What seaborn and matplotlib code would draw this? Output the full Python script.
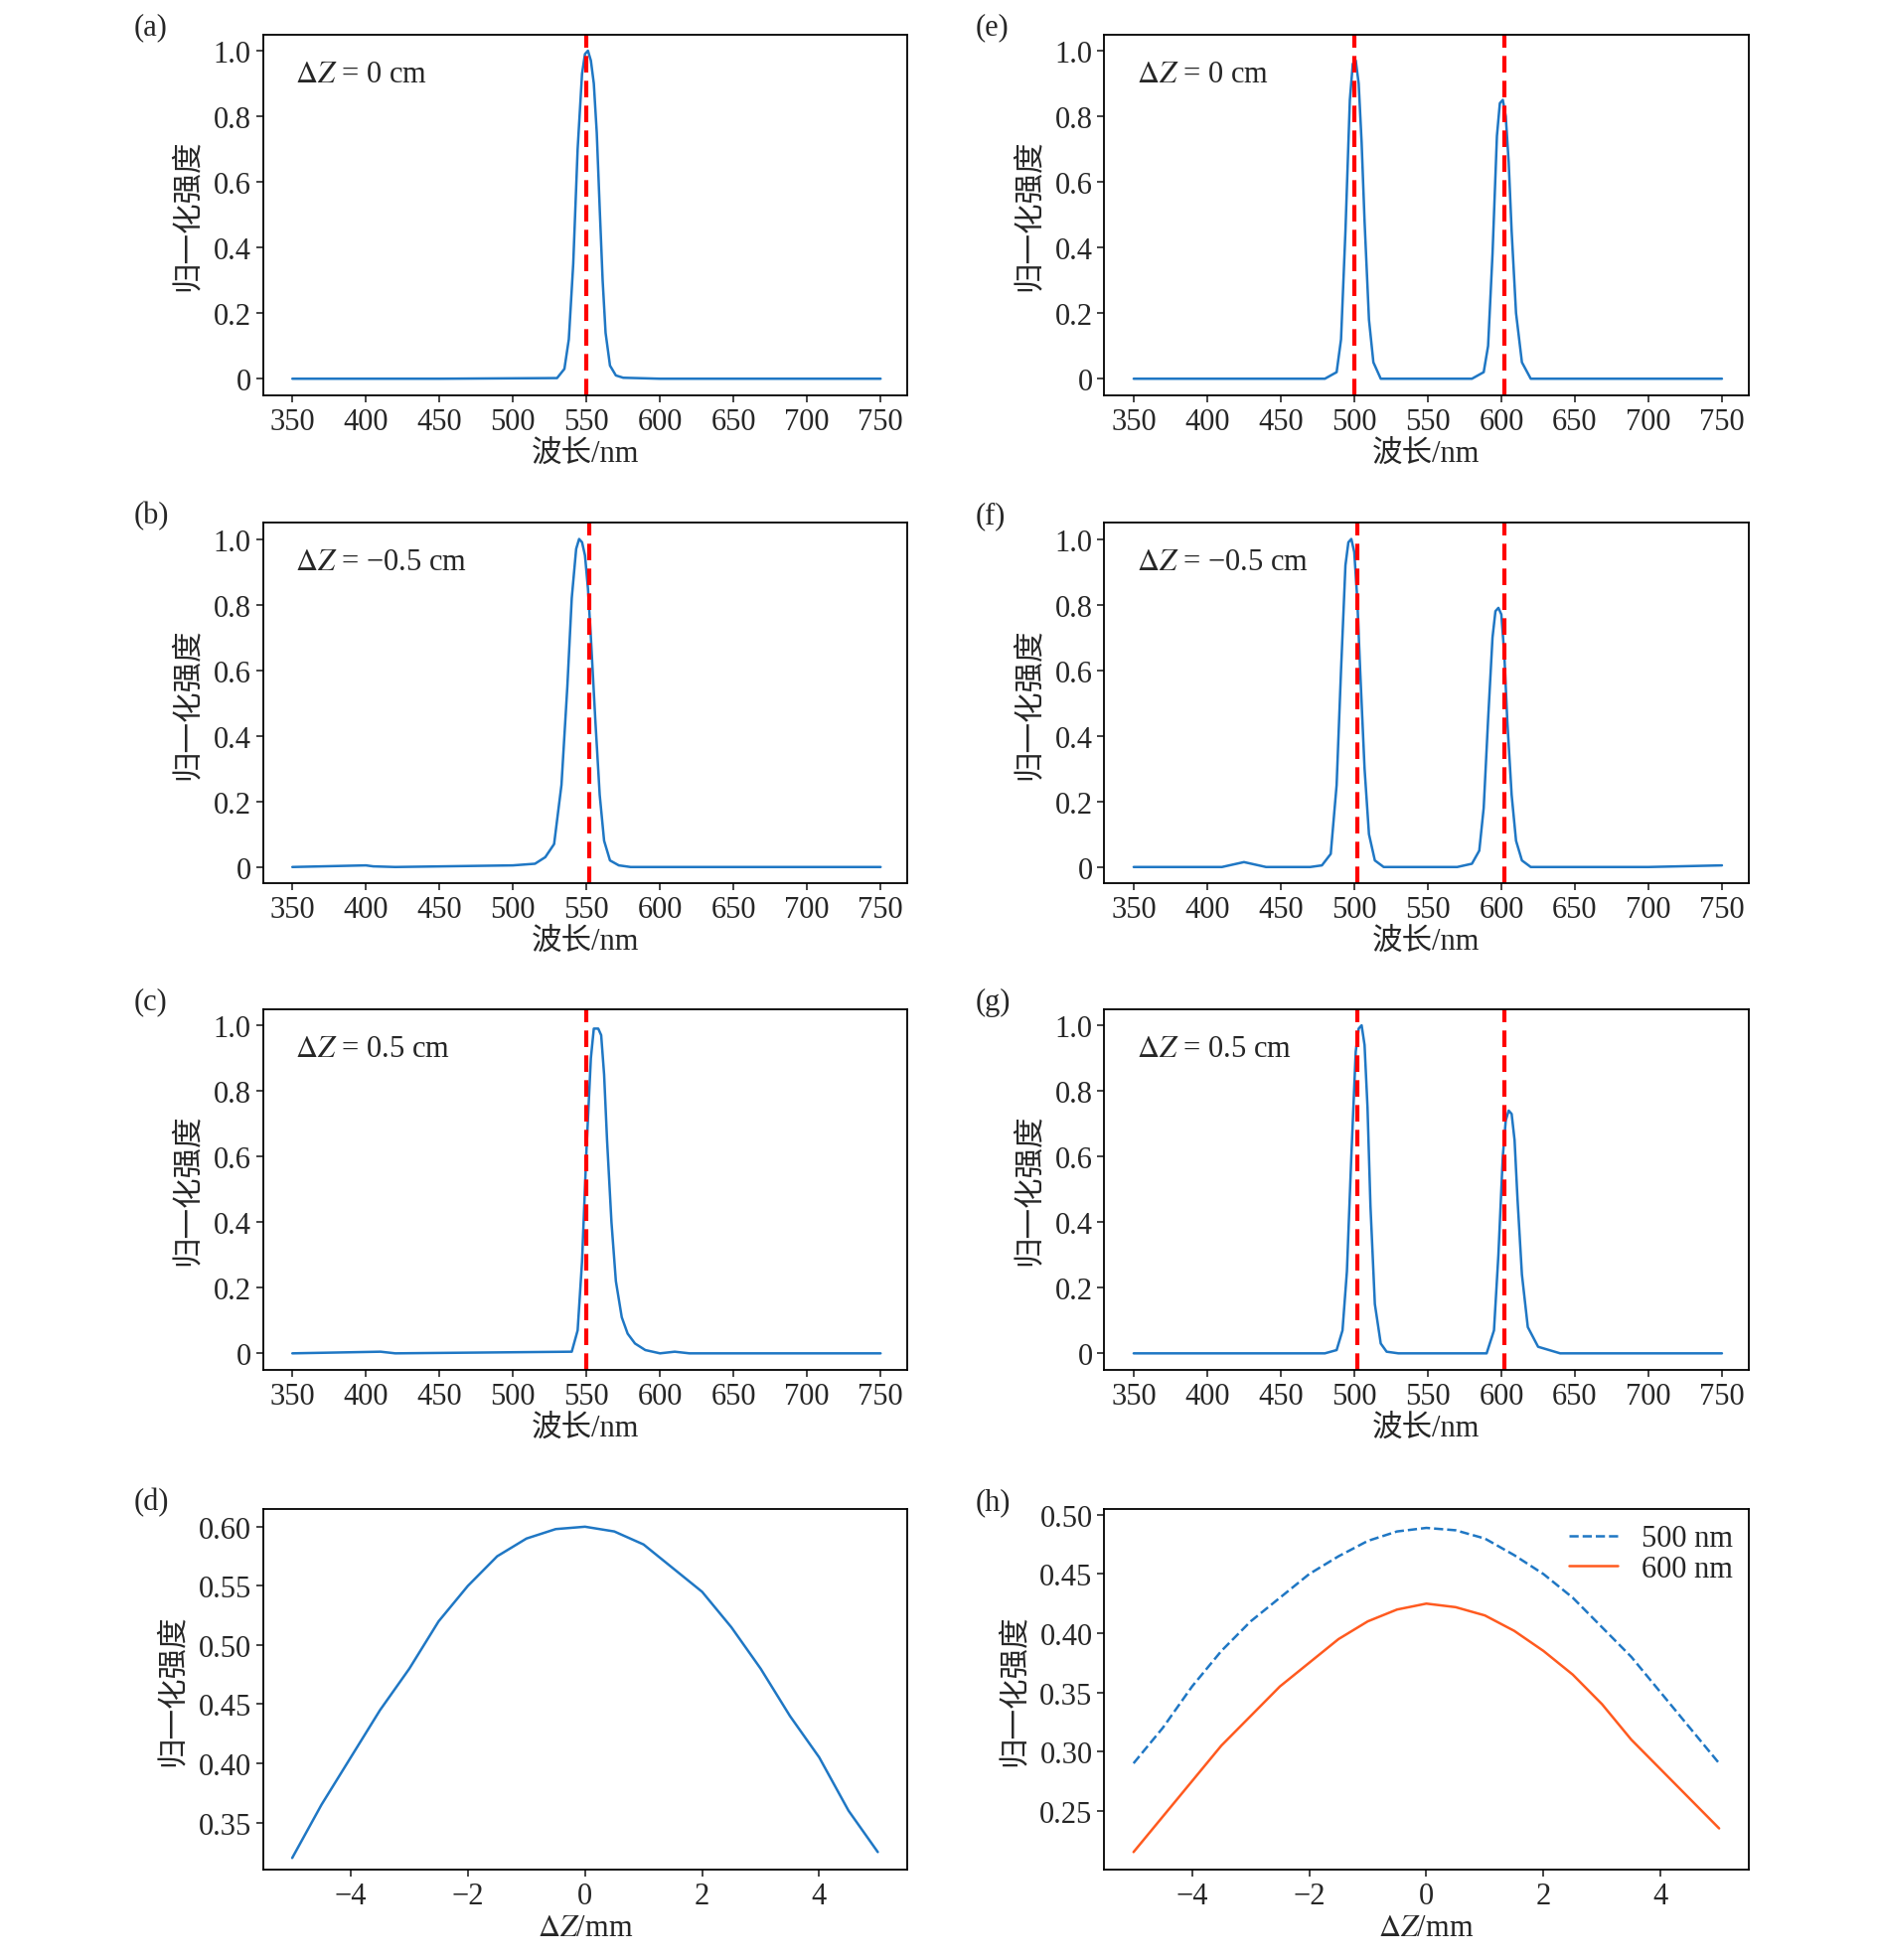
import matplotlib
matplotlib.use("Agg")
import matplotlib.pyplot as plt
import seaborn as sns
import numpy as np
import pandas as pd

sns.set_theme(style="ticks")
plt.rcParams['font.family'] = ['Liberation Serif', 'Noto Sans CJK SC']
plt.rcParams['mathtext.fontset'] = 'stix'

# ---- data ----
wl_a = [350,450,530,535,538,541,544,547,549,551,553,555,557,559,561,563,566,570,575,600,750]
in_a = [0,0,0.002,0.03,0.12,0.35,0.7,0.93,0.99,1.0,0.97,0.9,0.75,0.52,0.3,0.14,0.04,0.01,0.003,0,0]
wl_b = [350,400,405,420,500,515,522,528,533,537,540,543,545,547,549,551,553,556,559,562,566,572,580,750]
in_b = [0,0.005,0.002,0,0.005,0.01,0.03,0.07,0.25,0.55,0.82,0.97,1.0,0.99,0.95,0.85,0.7,0.45,0.22,0.08,0.02,0.005,0,0]
wl_c = [350,410,420,540,544,547,550,553,555,558,560,562,564,567,570,574,578,583,590,600,610,620,750]
in_c = [0,0.005,0,0.005,0.07,0.28,0.62,0.9,0.99,0.99,0.97,0.85,0.65,0.4,0.22,0.11,0.06,0.03,0.01,0,0.005,0,0]
wl_e = [350,480,488,491,494,497,499,501,503,505,507,510,513,518,580,588,591,594,597,599,601,603,605,607,610,614,620,750]
in_e = [0,0,0.02,0.12,0.45,0.85,0.96,0.97,0.9,0.72,0.48,0.18,0.05,0,0,0.02,0.1,0.38,0.74,0.84,0.85,0.8,0.66,0.45,0.2,0.05,0,0]
wl_f = [350,410,425,440,470,478,484,488,491,494,496,498,500,502,504,507,510,514,520,570,580,585,588,591,594,596,598,600,602,604,607,610,614,620,700,750]
in_f = [0,0,0.015,0,0,0.005,0.04,0.25,0.6,0.92,0.99,1.0,0.96,0.82,0.6,0.3,0.1,0.02,0,0,0.01,0.05,0.18,0.45,0.7,0.78,0.79,0.77,0.65,0.45,0.22,0.08,0.02,0,0,0.005]
wl_g = [350,480,488,492,495,498,501,503,505,507,509,511,514,518,522,530,590,595,598,601,603,605,607,609,611,614,618,625,640,750]
in_g = [0,0,0.01,0.07,0.25,0.6,0.92,0.99,1.0,0.94,0.75,0.45,0.15,0.03,0.005,0,0,0.07,0.3,0.6,0.71,0.74,0.73,0.65,0.47,0.24,0.08,0.02,0,0]

dz_d = [-5,-4.5,-4,-3.5,-3,-2.5,-2,-1.5,-1,-0.5,0,0.5,1,1.5,2,2.5,3,3.5,4,4.5,5]
in_d = [0.32,0.365,0.405,0.445,0.48,0.52,0.55,0.575,0.59,0.598,0.6,0.596,0.585,0.565,0.545,0.515,0.48,0.44,0.405,0.36,0.325]
dz_h = [-5,-4.5,-4,-3.5,-3,-2.5,-2,-1.5,-1,-0.5,0,0.5,1,1.5,2,2.5,3,3.5,4,4.5,5]
in_h500 = [0.29,0.32,0.355,0.385,0.41,0.43,0.45,0.465,0.478,0.486,0.489,0.487,0.48,0.466,0.45,0.43,0.405,0.38,0.35,0.32,0.29]
in_h600 = [0.215,0.245,0.275,0.305,0.33,0.355,0.375,0.395,0.41,0.42,0.425,0.422,0.415,0.402,0.385,0.365,0.34,0.31,0.285,0.26,0.235]

spectra = [("(a)", wl_a, in_a, [550], "0"), ("(b)", wl_b, in_b, [552], "\u22120.5"),
           ("(c)", wl_c, in_c, [550], "0.5"), ("(e)", wl_e, in_e, [500, 602], "0"),
           ("(f)", wl_f, in_f, [502, 602], "\u22120.5"), ("(g)", wl_g, in_g, [502, 602], "0.5")]

fig = plt.figure(figsize=(18.9, 19.74), dpi=100)
lefts = [0.14, 0.588]
bottoms = [0.798, 0.549, 0.301, 0.046]
W, H = 0.343, 0.184
blue = '#1f77c4'
fs = 22

def style(ax):
    for s in ax.spines.values():
        s.set_linewidth(1.3); s.set_color('black')
    ax.tick_params(labelsize=fs, width=1.2, length=5, direction='out')

for i, (lab, x, y, lines, dz) in enumerate(spectra):
    col, row = (0, i) if i < 3 else (1, i - 3)
    ax = fig.add_axes([lefts[col], bottoms[row], W, H])
    sns.lineplot(x=x, y=y, ax=ax, color=blue, lw=1.8)
    for v in lines:
        ax.axvline(v, color='red', ls='--', lw=3, dashes=(4, 2))
    ax.set_xlim(330, 768); ax.set_ylim(-0.05, 1.05)
    ax.set_xticks(range(350, 751, 50))
    ax.set_yticks([0, 0.2, 0.4, 0.6, 0.8, 1.0])
    ax.set_yticklabels(['0', '0.2', '0.4', '0.6', '0.8', '1.0'])
    ax.set_xlabel('波长/nm', fontsize=fs, labelpad=2)
    ax.set_ylabel('归一化强度', fontsize=fs, labelpad=8)
    ax.text(0.05, 0.87, r'$\Delta Z$' + ' = ' + dz + ' cm', transform=ax.transAxes, fontsize=fs)
    ax.text(-0.2, 1.0, lab, transform=ax.transAxes, fontsize=fs)
    style(ax)

ax = fig.add_axes([lefts[0], bottoms[3], W, H])
sns.lineplot(x=dz_d, y=in_d, ax=ax, color=blue, lw=1.8)
ax.set_xlim(-5.5, 5.5); ax.set_ylim(0.31, 0.615)
ax.set_xticks([-4, -2, 0, 2, 4]); ax.set_xticklabels(['\u22124', '\u22122', '0', '2', '4'])
ax.set_yticks([0.35, 0.40, 0.45, 0.50, 0.55, 0.60])
ax.set_yticklabels(['0.35', '0.40', '0.45', '0.50', '0.55', '0.60'])
ax.set_xlabel(r'$\Delta Z$' + '/mm', fontsize=fs, labelpad=2); ax.set_ylabel('归一化强度', fontsize=fs, labelpad=8)
ax.text(-0.2, 1.0, '(d)', transform=ax.transAxes, fontsize=fs)
style(ax)

ax = fig.add_axes([lefts[1], bottoms[3], W, H])
sns.lineplot(x=dz_h, y=in_h500, ax=ax, color=blue, lw=1.8, ls='--', label='500 nm')
sns.lineplot(x=dz_h, y=in_h600, ax=ax, color='#ff5a1f', lw=1.8, label='600 nm')
ax.set_xlim(-5.5, 5.5); ax.set_ylim(0.2, 0.505)
ax.set_xticks([-4, -2, 0, 2, 4]); ax.set_xticklabels(['\u22124', '\u22122', '0', '2', '4'])
ax.set_yticks([0.25, 0.30, 0.35, 0.40, 0.45, 0.50])
ax.set_yticklabels(['0.25', '0.30', '0.35', '0.40', '0.45', '0.50'])
ax.set_xlabel(r'$\Delta Z$' + '/mm', fontsize=fs, labelpad=2); ax.set_ylabel('归一化强度', fontsize=fs, labelpad=8)
ax.text(-0.2, 1.0, '(h)', transform=ax.transAxes, fontsize=fs)
ax.legend(frameon=False, fontsize=fs, loc='upper right', handlelength=1.6,
          borderaxespad=0.1, labelspacing=0.05)
style(ax)

fig.savefig('out.png', dpi=100)
